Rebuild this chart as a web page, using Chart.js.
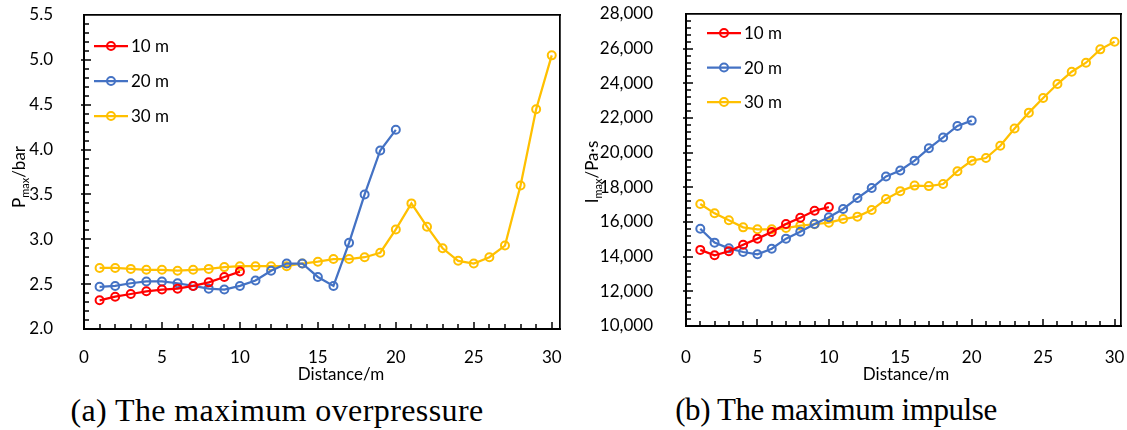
<!DOCTYPE html>
<html><head><meta charset="utf-8">
<script src="https://cdn.jsdelivr.net/npm/chart.js@4.4.0/dist/chart.umd.min.js"></script>
<style>
html,body{margin:0;padding:0;background:#fff;width:1127px;height:430px;overflow:hidden;position:relative}
.c{position:absolute;top:0}
#ca{left:0;z-index:1}
#cb{left:563px;z-index:2}
.cap{position:absolute;font-family:'Liberation Serif','Times New Roman',serif;color:#000;white-space:nowrap;transform:translateX(-50%);line-height:1}
</style></head><body>
<canvas class="c" id="ca" width="566" height="390"></canvas>
<canvas class="c" id="cb" width="564" height="390"></canvas>
<div class="cap" style="left:277px;top:394px;font-size:32px;letter-spacing:0.4px">(a) The maximum overpressure</div>
<div class="cap" style="left:836px;top:394px;font-size:31px;letter-spacing:-0.4px">(b) The maximum impulse</div>
<script>
// ---------- data ----------
const distances = [1,2,3,4,5,6,7,8,9,10,11,12,13,14,15,16,17,18,19,20,21,22,23,24,25,26,27,28,29,30];
const seriesLabels = ['10 m','20 m','30 m'];
const seriesColors = ['#FF0000','#4472C4','#FFC000'];

const pmax10 = [2.32,2.36,2.39,2.42,2.44,2.45,2.48,2.52,2.58,2.64];
const pmax20 = [2.47,2.48,2.51,2.53,2.53,2.51,2.48,2.45,2.44,2.48,2.54,2.65,2.73,2.73,2.58,2.48,2.96,3.50,3.99,4.22];
const pmax30 = [2.68,2.68,2.67,2.66,2.66,2.65,2.66,2.67,2.69,2.70,2.70,2.70,2.70,2.73,2.75,2.78,2.78,2.80,2.85,3.11,3.40,3.14,2.90,2.76,2.73,2.80,2.93,3.60,4.45,5.05];

const imax10 = [14390,14080,14310,14690,15040,15420,15880,16250,16650,16860];
const imax20 = [15610,14810,14480,14270,14140,14460,15040,15440,15880,16270,16750,17380,17960,18630,18970,19540,20250,20880,21540,21850];
const imax30 = [17040,16500,16100,15690,15580,15580,15650,15790,15870,15960,16170,16310,16690,17320,17780,18100,18070,18190,18930,19540,19690,20400,21390,22310,23150,23960,24670,25190,25960,26400];

const xTickValues = [0,5,10,15,20,25,30];
const yTickValuesA = [2.0,2.5,3.0,3.5,4.0,4.5,5.0,5.5];
const yTickValuesB = [10000,12000,14000,16000,18000,20000,22000,24000,26000,28000];
const xTitle = 'Distance/m';
const yTitleA = ['P','max','/bar'];
const yTitleB = ['I','max','/Pa·s'];

// ---------- drawing ----------
const FONT = 'Lato, "Open Sans", sans-serif';
Chart.defaults.font.family = FONT;

const decor = {
  id: 'decor',
  afterDatasetsDraw(chart, args, o) {
    // inward minor/major tick marks along the two value axes
    const ctx = chart.ctx, a = chart.chartArea;
    const xs = chart.scales.x, ys = chart.scales.y;
    ctx.save();
    ctx.fillStyle = '#000000';
    for (let v = 1; v <= 30; v++) {
      const px = Math.round(xs.getPixelForValue(v));
      const len = (v % 5 === 0) ? 7 : 5;
      ctx.fillRect(px - 0.75, a.bottom - len, 1.5, len);
    }
    const n = Math.round((o.yMax - o.yMin) / o.yMinor);
    for (let i = 1; i < n; i++) {
      const v = o.yMin + i * o.yMinor;
      const py = Math.round(ys.getPixelForValue(v));
      const major = (i % o.majorEvery === 0);
      ctx.fillRect(a.left - (major ? 3 : 0), py - 0.75, major ? 10 : 5, 1.5);
    }
    ctx.restore();
  },
  afterDraw(chart, args, o) {
    const ctx = chart.ctx;
    ctx.save();
    ctx.fillStyle = '#000';
    ctx.font = '17px ' + FONT;
    ctx.textAlign = 'center';
    ctx.textBaseline = 'middle';
    ctx.fillText(xTitle, o.xTitleX, o.xTitleY);

    const t = o.yTitle;
    const mainF = '17px ' + FONT, subF = '11px ' + FONT;
    ctx.font = mainF; const w1 = ctx.measureText(t[0]).width, w3 = ctx.measureText(t[2]).width;
    ctx.font = subF; const w2 = ctx.measureText(t[1]).width;
    const tot = w1 + w2 + w3;
    ctx.save();
    ctx.translate(o.yTitleX, o.yTitleY);
    ctx.rotate(-Math.PI / 2);
    ctx.textAlign = 'left';
    ctx.textBaseline = 'alphabetic';
    let x = -tot / 2;
    ctx.font = mainF; ctx.fillText(t[0], x, 0); x += w1;
    ctx.font = subF; ctx.fillText(t[1], x, 4); x += w2;
    ctx.font = mainF; ctx.fillText(t[2], x, 0);
    ctx.restore();

    // legend (line + open marker + label), inside the plot area
    chart.data.datasets.forEach((ds, i) => {
      const y = o.legY + i * o.legGap;
      ctx.strokeStyle = ds.borderColor;
      ctx.lineWidth = 2.25;
      ctx.beginPath(); ctx.moveTo(o.legX, y); ctx.lineTo(o.legX + 34, y); ctx.stroke();
      ctx.lineWidth = 2;
      ctx.beginPath(); ctx.arc(o.legX + 17, y, 4, 0, Math.PI * 2); ctx.stroke();
      ctx.fillStyle = '#000';
      ctx.font = '17px ' + FONT;
      ctx.textAlign = 'left'; ctx.textBaseline = 'middle';
      ctx.fillText(ds.label, o.legX + 37, y + 1);
    });
    ctx.restore();
  }
};

function makeChart(id, cfg) {
  const datasets = cfg.series.map((vals, i) => ({
    label: seriesLabels[i],
    data: vals.map((v, k) => ({ x: distances[k], y: v })),
    borderColor: seriesColors[i],
    backgroundColor: 'rgba(0,0,0,0)',
    pointBackgroundColor: 'rgba(0,0,0,0)',
    pointBorderColor: seriesColors[i],
    pointRadius: 4, pointHoverRadius: 4, pointBorderWidth: 2,
    borderWidth: 2.25, tension: 0, fill: false
  }));
  const frameAxis = (pos) => ({
    type: 'linear', position: pos, display: true,
    min: 0, max: 1,
    grid: { display: false },
    border: { display: true, color: '#000000', width: 1.75 },
    ticks: { display: false },
    afterFit: s => { if (pos === 'top') s.height = 0; else s.width = 0; s.paddingTop = s.paddingBottom = s.paddingLeft = s.paddingRight = 0; }
  });
  return new Chart(document.getElementById(id), {
    type: 'line',
    data: { datasets },
    options: {
      responsive: false, animation: false, devicePixelRatio: 1,
      layout: { padding: { top: cfg.padTop, right: cfg.padRight, left: 0, bottom: 0 } },
      plugins: { legend: { display: false }, tooltip: { enabled: false }, decor: cfg.decor },
      scales: {
        x: {
          type: 'linear', min: 0, max: cfg.xMax,
          afterBuildTicks: s => { s.ticks = xTickValues.map(v => ({ value: v })); },
          afterFit: s => { s.height = cfg.xHeight; s.paddingLeft = 0; s.paddingRight = 0; },
          grid: { display: false },
          border: { display: true, color: '#000000', width: 2 },
          ticks: { color: '#000', font: { size: 17 }, padding: cfg.xPad, maxRotation: 0, autoSkip: false }
        },
        y: {
          type: 'linear', min: cfg.yMin, max: cfg.yMax,
          afterBuildTicks: s => { s.ticks = cfg.yTicks.map(v => ({ value: v })); },
          afterFit: s => { s.width = cfg.yWidth; s.paddingTop = 0; s.paddingBottom = 0; },
          grid: { display: false },
          border: { display: true, color: '#000000', width: 2 },
          ticks: { color: '#000', font: { size: 17 }, padding: cfg.yPad, callback: cfg.fmt }
        },
        xTop: frameAxis('top'),
        yRight: frameAxis('right')
      }
    },
    plugins: [decor]
  });
}

makeChart('ca', {
  series: [pmax10, pmax20, pmax30],
  xMax: 30.53, yMin: 2.0, yMax: 5.5, yTicks: yTickValuesA,
  fmt: v => Number(v).toFixed(1),
  padTop: 15, padRight: 0, xHeight: 61, yWidth: 84, xPad: 10, yPad: 23,
  decor: { yMin: 2.0, yMax: 5.5, yMinor: 0.1, majorEvery: 5,
    xTitleX: 341, xTitleY: 375, yTitle: yTitleA, yTitleX: 25, yTitleY: 177,
    legX: 94, legY: 46, legGap: 35 }
});
makeChart('cb', {
  series: [imax10, imax20, imax30],
  xMax: 30.45, yMin: 10000, yMax: 28000, yTicks: yTickValuesB,
  fmt: v => Number(v).toLocaleString('en-US'),
  padTop: 14, padRight: 6, xHeight: 64, yWidth: 123, xPad: 13, yPad: 25,
  decor: { yMin: 10000, yMax: 28000, yMinor: 400, majorEvery: 5,
    xTitleX: 906 - 563, xTitleY: 375, yTitle: yTitleB, yTitleX: 598 - 563, yTitleY: 172,
    legX: 707 - 563, legY: 33, legGap: 34.5 }
});
</script>
</body></html>
